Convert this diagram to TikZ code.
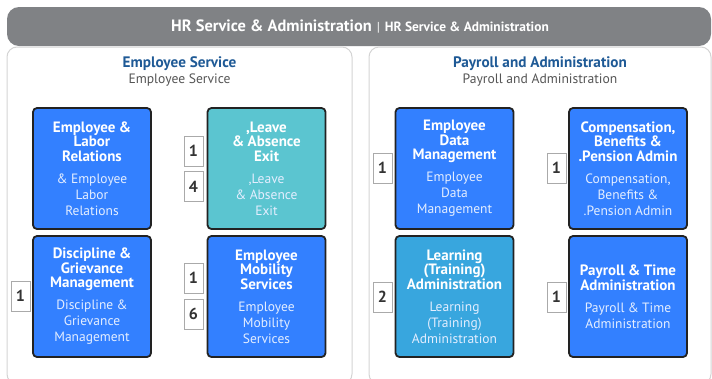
\documentclass[tikz,border=0pt]{standalone}
\usepackage{fontspec}
\setmainfont{PT Sans}
\definecolor{hdrgray}{HTML}{808285}
\definecolor{panelline}{HTML}{D4D4D4}
\definecolor{titleblue}{HTML}{1F5A96}
\definecolor{subgray}{HTML}{555555}
\definecolor{boxblue}{HTML}{3380FF}
\definecolor{boxteal}{HTML}{5BC5D0}
\definecolor{boxsky}{HTML}{38A6DE}
\definecolor{boxedge}{HTML}{222222}
\definecolor{bodytext}{HTML}{E4EEFF}
\definecolor{numedge}{HTML}{AAAAAA}
\definecolor{numtext}{HTML}{333333}
\newcommand{\boxtext}[2]{{\bfseries\fontsize{15}{14.5}\selectfont #1\par}\vspace{6pt}{\color{bodytext}\fontsize{13.5}{16}\selectfont #2\par}}
\tikzset{
  panel/.style={draw=panelline, line width=1pt, fill=white, rounded corners=10pt},
  unit/.style={draw=boxedge, line width=1.8pt, rounded corners=4pt, minimum width=118pt, minimum height=121pt, text width=118pt, align=center, text=white, inner sep=0pt},
  num/.style={draw=numedge, line width=0.8pt, fill=white, minimum width=19pt, minimum height=30pt, inner sep=0pt, font=\bfseries\fontsize{16}{18}\selectfont, text=numtext},
  ptitle/.style={font=\bfseries\fontsize{15.2}{17}\selectfont, text=titleblue, inner sep=0pt},
  psub/.style={font=\fontsize{13.6}{15}\selectfont, text=subgray, inner sep=0pt}
}
\begin{document}
\begin{tikzpicture}[x=1pt,y=-1pt]
\useasboundingbox (0,0) rectangle (712,378);
\clip (0,0) rectangle (712,378);
% header
\fill[hdrgray, rounded corners=12pt] (7,7) rectangle (711,46);
\node[text=white, inner sep=0pt] (hdr) at (360,26) {{\bfseries\fontsize{16.4}{18}\selectfont HR Service \& Administration}\hspace{5pt}{\fontsize{13}{15}\selectfont |}\hspace{5pt}{\bfseries\fontsize{13.4}{15}\selectfont HR Service \& Administration}};
% panels
\draw[panel] (7,47) rectangle (352,384);
\draw[panel] (369,47) rectangle (711,384);
\node[ptitle] (lt) at (179.5,64) {Employee Service};
\node[psub] (ls) at (179.5,80) {Employee Service};
\node[ptitle] (rt) at (540,64) {Payroll and Administration};
\node[psub] (rs) at (540,80) {Payroll and Administration};
% units
\node[unit, fill=boxblue] (elr) at (92,168.5) {\boxtext{Employee \&\\Labor\\Relations}{\& Employee\\Labor\\Relations}};
\node[unit, fill=boxteal] (lae) at (266.5,168.5) {\boxtext{,Leave\\\& Absence\\Exit}{,Leave\\\& Absence\\Exit}};
\node[unit, fill=boxblue] (dgm) at (92,296.5) {\boxtext{Discipline \&\\Grievance\\Management}{Discipline \&\\Grievance\\Management}};
\node[unit, fill=boxblue] (ems) at (266.5,296.5) {\boxtext{Employee\\Mobility\\Services}{Employee\\Mobility\\Services}};
\node[unit, fill=boxblue] (edm) at (454.5,168.5) {\boxtext{Employee\\Data\\Management}{Employee\\Data\\Management}};
\node[unit, fill=boxblue] (cbp) at (628,168.5) {\boxtext{Compensation,\\Benefits \&\\.Pension Admin}{Compensation,\\Benefits \&\\.Pension Admin}};
\node[unit, fill=boxsky] (lta) at (454.5,296.5) {\boxtext{Learning\\(Training)\\Administration}{Learning\\(Training)\\Administration}};
\node[unit, fill=boxblue] (pta) at (628,296.5) {\boxtext{Payroll \& Time\\Administration}{Payroll \& Time\\Administration}};
% counts
\node[num] (n1) at (193.5,151) {1};
\node[num] (n2) at (193.5,186.5) {4};
\node[num] (n3) at (20.5,296) {1};
\node[num] (n4) at (193.5,278) {1};
\node[num] (n5) at (193.5,314) {6};
\node[num] (n6) at (382.5,168) {1};
\node[num] (n7) at (556.5,168) {1};
\node[num] (n8) at (382.5,297) {2};
\node[num] (n9) at (556.5,297) {1};
\end{tikzpicture}
\end{document}
